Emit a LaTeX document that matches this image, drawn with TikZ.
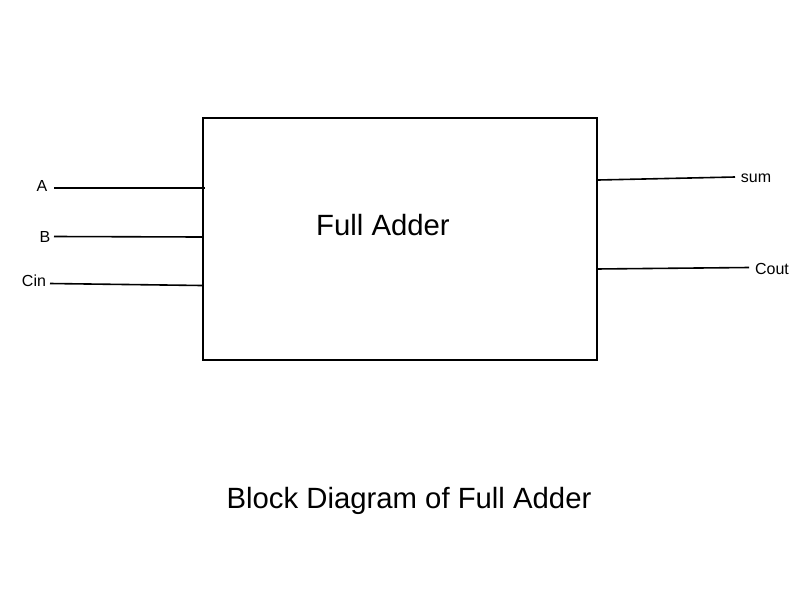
\documentclass[tikz,border=0pt]{standalone}
\usepackage{fontspec}
\setmainfont{Liberation Sans}
\begin{document}
\begin{tikzpicture}[x=1pt,y=-1pt,
  wire/.style={line width=1.6pt},
  lbl/.style={inner sep=0pt,font=\fontsize{16}{18}\selectfont},
  big/.style={inner sep=0pt,font=\fontsize{29.3}{33}\selectfont}]
\useasboundingbox (0,0) rectangle (800,600);
\node[draw,line width=2pt,minimum width=394pt,minimum height=242pt,inner sep=0pt,anchor=north west] (fa) at (201.5,117) {};
\node[big] (t) at (383,225) {Full Adder};
\node[big] (title) at (409,501) {Block Diagram of Full Adder};
\node[lbl] (A) at (42,186) {A};
\node[lbl] (B) at (45,237) {B};
\node[lbl] (Cin) at (34,281) {Cin};
\node[lbl] (sum) at (756,178) {sum};
\node[lbl] (Cout) at (772,269) {Cout};
\coordinate (a0) at (54,188); \coordinate (a1) at (205,188);
\coordinate (b0) at (54,236.5); \coordinate (b1) at (202,237);
\coordinate (c0) at (50,283.5); \coordinate (c1) at (202,285.5);
\coordinate (s0) at (598,180); \coordinate (s1) at (735,177);
\coordinate (o0) at (596,269); \coordinate (o1) at (749,267.5);
\draw[wire] (a0) -- (a1);
\draw[wire] (b0) -- (b1);
\draw[wire] (c0) -- (c1);
\draw[wire] (s0) -- (s1);
\draw[wire] (o0) -- (o1);
\end{tikzpicture}
\end{document}
